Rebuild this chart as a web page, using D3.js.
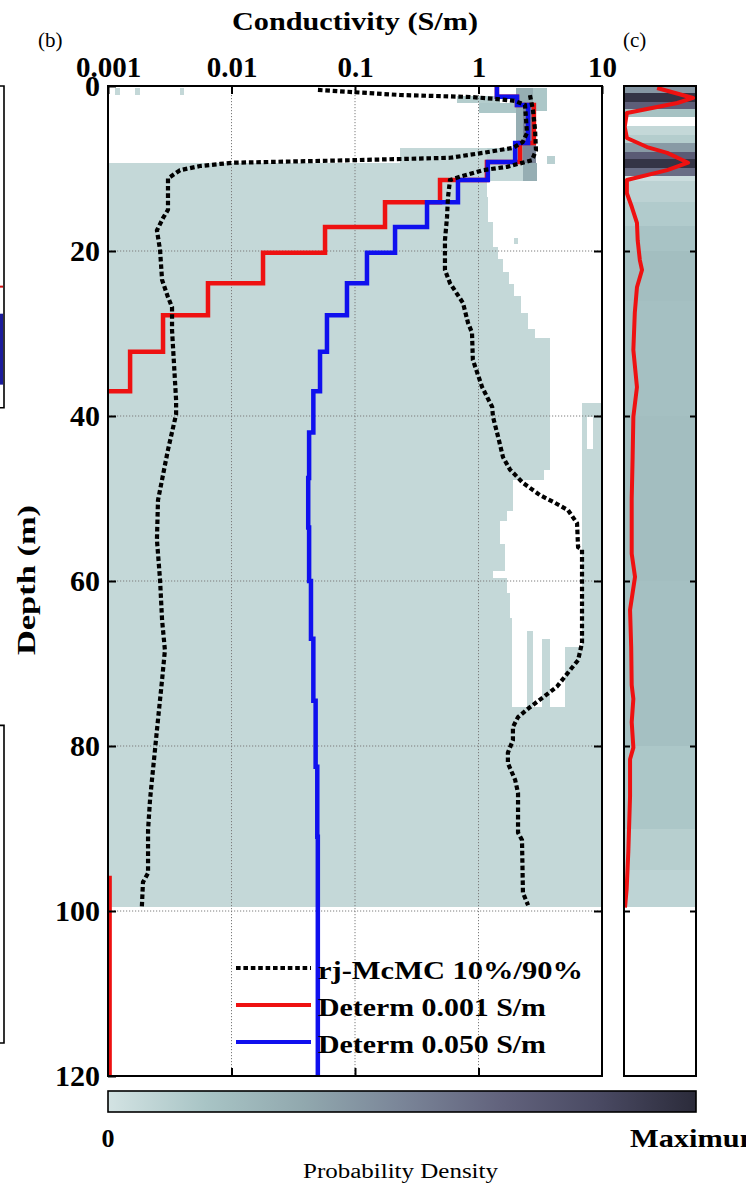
<!DOCTYPE html>
<html><head><meta charset="utf-8">
<script src="https://cdn.jsdelivr.net/npm/d3@7"></script>
<style>body{margin:0;background:#fff}svg{display:block}</style>
</head><body>
<svg id="chart" width="746" height="1184"></svg>
<script>
// ---------------- DATA ----------------
const xTickValues = [0.001, 0.01, 0.1, 1, 10];
const xTickLabels = ["0.001", "0.01", "0.1", "1", "10"];
const depthTickValues = [0, 20, 40, 60, 80, 100, 120];
const depthTickLabels = ["0", "20", "40", "60", "80", "100", "120"];

// rj-McMC 10% percentile
const p10Depth = [0.48,1.09,1.33,1.58,1.82,2.3,5.7,6.8,7.5,8.1,8.7,9.0,9.3,9.45,9.7,10.2,11.2,15.0,16.0,17.5,19.9,23.5,25.6,26.8,29.6,38.1,39.8,44.1,50.2,55.0,59.9,64.7,68.4,72.0,76.8,80.5,84.1,86.5,90.2,95.4,96.5,99.5];
const p10Value = [0.0501,0.231,0.853,1.41,1.98,2.38,2.47,2.28,1.90,1.09,0.588,0.0911,0.0103,0.00807,0.00556,0.00383,0.00306,0.00306,0.00279,0.00249,0.00264,0.00274,0.00306,0.0033,0.0033,0.00356,0.00356,0.00306,0.00254,0.00249,0.00264,0.00274,0.00289,0.00274,0.00254,0.0024,0.00227,0.00219,0.00211,0.00211,0.00192,0.00188];
// rj-McMC 90% percentile
const p90Depth = [1.1,2.9,5.3,7.8,9.0,9.8,10.2,11.0,11.4,13.5,15.9,18.7,22.3,23.9,26.3,28.7,29.9,33.2,36.5,38.9,40.1,42.5,45.0,46.5,48.1,49.6,50.4,51.4,53.0,55.9,56.2,67.5,69.6,70.8,72.8,74.1,75.3,76.5,77.7,79.3,80.8,82.1,84.1,85.7,90.5,91.4,97.8,99.3];
const p90Value = [2.61,2.76,2.87,2.92,2.71,1.70,1.09,0.708,0.588,0.566,0.556,0.535,0.535,0.588,0.749,0.822,0.886,0.9,1.07,1.29,1.31,1.44,1.58,1.80,2.29,3.15,4.01,5.30,6.28,6.40,6.89,6.89,6.40,5.51,4.32,3.33,2.61,2.09,1.90,1.90,1.73,1.73,1.98,2.09,2.09,2.25,2.29,2.52];

// deterministic layered models (layer tops, m; last layer to 120 m)
const layerTops = [0,1.3,2.3,6.9,9.2,11.4,14.1,17.1,20.2,23.9,27.8,32.2,37.0,42,47.5,53.5,60,67,74.5,82.5,91,96,100];
const modelBottom = 120;
const determ001 = [1.41,2.05,2.81,2.17,1.17,0.488,0.175,0.0572,0.018,0.00645,0.00279,0.00151,0.0008,0.0008,0.0008,0.0008,0.0008,0.0008,0.0008,0.0008,0.0008,0.00103,0.00103];
const determ050 = [1.41,2.05,2.52,1.98,1.19,0.682,0.383,0.211,0.125,0.0861,0.0593,0.0521,0.046,0.0425,0.0418,0.0425,0.044,0.046,0.048,0.0495,0.05,0.05,0.05];

// posterior probability density cells: depth top, depth bottom, min S/m, max S/m, relative density
const pdfTop    = [7.5,7.5,9.3,11.5,13.5,16.5,19.5,21,22.5,24,25.5,27.5,29.5,30.5,46.5,47.7,51.5,52.7,55.5,58.8,59.6,61.5,64.5,75.3,18.4,38.4,40.1,40.1,44,66,67,68, 0.3,0.3,0.3,1.2,2.1,0.3,0.3,2.0,8.5,9.3];
const pdfBottom = [9.3,9.3,11.5,13.5,16.5,19.5,21,22.5,24,25.5,27.5,29.5,30.5,46.5,47.7,51.5,52.7,55.5,58.8,59.6,61.5,64.5,75.3,99.5,19.2,40.1,44,44,75.3,75.3,75.3,75.3, 1.1,1.1,1.1,2.1,3.3,3.0,9.3,9.3,9.5,11.5];
const pdfMin    = [0.23,1.17,0.001,0.001,0.001,0.001,0.001,0.001,0.001,0.001,0.001,0.001,0.001,0.001,0.001,0.001,0.001,0.001,0.001,0.001,0.001,0.001,0.001,0.001,1.95,6.9,6.9,8.45,6.9,2.47,3.25,5.0, 0.00114,0.00165,0.00383,0.67,1.0,2.76,2.0,2.3,3.6,2.3];
const pdfMax    = [1.17,2.0,2.5,1.17,1.2,1.31,1.45,1.58,1.75,1.95,2.2,2.5,2.87,3.79,3.4,1.90,1.70,1.5,1.65,1.31,1.70,1.80,1.87,10,2.1,10,7.56,10,10,2.76,3.79,6.9, 0.00125,0.00182,0.00413,1.49,2.0,3.59,2.76,2.9,4.2,3.0];
const pdfLevel  = [0.06,0.1,0.06,0.06,0.06,0.06,0.06,0.06,0.06,0.06,0.06,0.06,0.06,0.06,0.06,0.06,0.06,0.06,0.06,0.06,0.06,0.06,0.06,0.06,0.06,0.06,0.06,0.06,0.06,0.06,0.06,0.06, 0.06,0.06,0.06,0.12,0.15,0.15,0.3,0.5,0.1,0.3];

// panel (c): interface-depth probability bands
const cBandTop    = [0,0.9,1.9,2.8,4.85,5.9,6.9,8.0,8.9,9.9,10.9,11.5,14,17,20,26,40,60,80,90,95];
const cBandBottom = [0.9,1.9,2.8,3.75,5.9,6.9,8.0,8.9,9.9,10.9,11.5,14,17,20,26,40,60,80,90,95,99.5];
const cBandLevel  = [0.42,0.95,0.7,0.18,0.06,0.12,0.4,0.72,0.95,0.62,0.03,0.09,0.13,0.17,0.2,0.19,0.2,0.19,0.15,0.11,0.08];
// panel (c): red curve (depth, fraction of panel width)
const cLineDepth = [0.24,1.45,2.06,3.27,4.97,6.3,7.4,8.1,9.3,10.2,11.4,13.0,14.7,16.6,18.7,21.1,22.3,24.4,27.5,32,36.5,40.1,45,50,56.7,59.5,63.5,68,72.6,74.3,77.1,80.2,81.6,86.1,92.8,97.3,99.6];
const cLineFrac  = [0.46,0.96,0.74,0.04,0.01,0.04,0.32,0.60,0.89,0.60,0.04,0.04,0.11,0.18,0.19,0.22,0.25,0.18,0.15,0.13,0.18,0.13,0.12,0.107,0.107,0.153,0.084,0.1,0.107,0.13,0.107,0.13,0.084,0.084,0.06,0.037,0.014];

const colorStops = ["#d3e3e3","#a8c4c5","#91a8ae","#7a8598","#62637d","#4a4a63","#2b2b3a"];
const legendLabels = ["rj-McMC 10%/90%", "Determ 0.001 S/m", "Determ 0.050 S/m"];

// ---------------- LAYOUT ----------------
const svg = d3.select("#chart");
const FONT = "'Liberation Serif','Times New Roman',Times,serif";
const L = 108, R = 602, T = 86, B = 1076;
const CL = 624, CR = 696;

const x = d3.scaleLog().domain([0.001, 10]).range([L, R]);
const y = d3.scaleLinear().domain([0, 120]).range([T, B]);
const xc = d3.scaleLinear().domain([0, 1]).range([CL, CR]);
const color = d3.scaleLinear()
  .domain(colorStops.map((c, i) => i / (colorStops.length - 1)))
  .range(colorStops).interpolate(d3.interpolateRgb);

const defs = svg.append("defs");
defs.append("clipPath").attr("id", "clipB").append("rect")
  .attr("x", L).attr("y", T).attr("width", R - L).attr("height", B - T);
defs.append("clipPath").attr("id", "clipC").append("rect")
  .attr("x", CL).attr("y", T).attr("width", CR - CL).attr("height", B - T);

// ----- panel (a) fragments at far left -----
const frag = svg.append("g").attr("stroke", "#000").attr("stroke-width", 1.6).attr("fill", "none");
frag.append("path").attr("d", `M0,${y(0)}H4V${y(39)}H0`);
frag.append("path").attr("d", `M0,${y(77.5)}H4V${y(116)}H0`);
svg.append("rect").attr("x", 0).attr("y", y(27.6)).attr("width", 3).attr("height", y(36.2) - y(27.6)).attr("fill", "#1c1c9a");
svg.append("rect").attr("x", 0).attr("y", y(24.2)).attr("width", 3).attr("height", 2).attr("fill", "#d01010");

// ----- panel (b) -----
const gB = svg.append("g");
const heat = gB.append("g").attr("clip-path", "url(#clipB)").attr("shape-rendering", "crispEdges");
heat.selectAll("rect").data(pdfTop.map((t, i) => i)).join("rect")
  .attr("x", i => x(pdfMin[i]))
  .attr("width", i => x(pdfMax[i]) - x(pdfMin[i]))
  .attr("y", i => y(pdfTop[i]))
  .attr("height", i => y(pdfBottom[i]) - y(pdfTop[i]))
  .attr("fill", i => color(pdfLevel[i]));

// grid
const grid = gB.append("g").attr("stroke", "#7d7d7d").attr("stroke-width", 1).attr("stroke-dasharray", "1.2,1.8");
grid.selectAll("line.v").data(xTickValues.slice(1, -1)).join("line")
  .attr("x1", d => x(d)).attr("x2", d => x(d)).attr("y1", T).attr("y2", B);
grid.selectAll("line.h").data(depthTickValues.slice(1, -1)).join("line")
  .attr("x1", L).attr("x2", R).attr("y1", d => y(d)).attr("y2", d => y(d));

// lines
const lines = gB.append("g").attr("clip-path", "url(#clipB)").attr("fill", "none");
function stepPoints(vals) {
  const pts = [];
  vals.forEach((v, i) => {
    const top = layerTops[i];
    const bot = i + 1 < layerTops.length ? layerTops[i + 1] : modelBottom;
    pts.push([v, top], [v, bot]);
  });
  return pts;
}
const lineVD = d3.line().x(d => x(d[0])).y(d => y(d[1]));
lines.append("path").attr("d", lineVD(stepPoints(determ001)))
  .attr("stroke", "#ee1111").attr("stroke-width", 4.5);
lines.append("path").attr("d", lineVD(stepPoints(determ050)))
  .attr("stroke", "#1010ee").attr("stroke-width", 4.5);
[[p10Value, p10Depth], [p90Value, p90Depth]].forEach(([v, dd]) => {
  lines.append("path").attr("d", lineVD(v.map((val, i) => [val, dd[i]])))
    .attr("stroke", "#000").attr("stroke-width", 4.2).attr("stroke-dasharray", "4.6,2.8");
});

// axes
const axStyle = g => {
  g.select(".domain").remove();
  g.selectAll(".tick line").attr("stroke", "#000").attr("stroke-width", 2);
  g.selectAll("text").attr("font-family", FONT).attr("font-weight", "bold").attr("fill", "#000");
};
svg.append("g").attr("transform", `translate(0,${T})`)
  .call(d3.axisTop(x).tickValues(xTickValues).tickFormat((d, i) => xTickLabels[i]).tickSize(-8).tickPadding(9))
  .call(axStyle).call(g => g.selectAll("text").attr("font-size", 29));
svg.append("g").attr("transform", `translate(0,${B})`)
  .call(d3.axisBottom(x).tickValues(xTickValues.slice(1, -1)).tickFormat("").tickSize(-8))
  .call(axStyle);
svg.append("g").attr("transform", `translate(${L},0)`)
  .call(d3.axisLeft(y).tickValues(depthTickValues).tickFormat((d, i) => depthTickLabels[i]).tickSize(-8).tickPadding(8))
  .call(axStyle).call(g => g.selectAll("text").attr("font-size", 30));
svg.append("g").attr("transform", `translate(${R},0)`)
  .call(d3.axisRight(y).tickValues(depthTickValues.slice(1, -1)).tickFormat("").tickSize(-8))
  .call(axStyle);
gB.append("rect").attr("x", L).attr("y", T).attr("width", R - L).attr("height", B - T)
  .attr("fill", "none").attr("stroke", "#000").attr("stroke-width", 2);

// legend
const legY = [968, 1005, 1042];
const legG = svg.append("g");
legY.forEach((ly, i) => {
  const ln = legG.append("line").attr("x1", 236).attr("x2", 311).attr("y1", ly).attr("y2", ly)
    .attr("stroke-width", 4.2)
    .attr("stroke", ["#000", "#ee1111", "#1010ee"][i]);
  if (i === 0) ln.attr("stroke-dasharray", "4.6,2.8");
  legG.append("text").attr("x", 318).attr("y", ly + 11)
    .attr("font-family", FONT).attr("font-weight", "bold").attr("font-size", 26)
    .attr("textLength", i === 0 ? 265 : 228).attr("lengthAdjust", "spacingAndGlyphs")
    .text(legendLabels[i]);
});

// ----- panel (c) -----
const gC = svg.append("g");
gC.append("g").attr("clip-path", "url(#clipC)").attr("shape-rendering", "crispEdges")
  .selectAll("rect").data(cBandTop.map((t, i) => i)).join("rect")
  .attr("x", CL).attr("width", CR - CL)
  .attr("y", i => y(cBandTop[i])).attr("height", i => y(cBandBottom[i]) - y(cBandTop[i]))
  .attr("fill", i => color(cBandLevel[i]));
gC.append("path").attr("clip-path", "url(#clipC)")
  .attr("d", d3.line().x(d => xc(d[0])).y(d => y(d[1]))(cLineFrac.map((f, i) => [f, cLineDepth[i]])))
  .attr("fill", "none").attr("stroke", "#ee1111").attr("stroke-width", 4).attr("stroke-linejoin", "round");
svg.append("g").attr("transform", `translate(${CL},0)`)
  .call(d3.axisLeft(y).tickValues(depthTickValues.slice(1, -1)).tickFormat("").tickSize(-6)).call(axStyle);
svg.append("g").attr("transform", `translate(${CR},0)`)
  .call(d3.axisRight(y).tickValues(depthTickValues.slice(1, -1)).tickFormat("").tickSize(-6)).call(axStyle);
gC.append("rect").attr("x", CL).attr("y", T).attr("width", CR - CL).attr("height", B - T)
  .attr("fill", "none").attr("stroke", "#000").attr("stroke-width", 2);

// ----- titles -----
svg.append("text").attr("x", 232).attr("y", 30).attr("font-family", FONT).attr("font-weight", "bold")
  .attr("font-size", 26).attr("textLength", 246).attr("lengthAdjust", "spacingAndGlyphs").text("Conductivity (S/m)");
svg.append("text").attr("x", 38).attr("y", 47).attr("font-family", FONT).attr("font-size", 21).text("(b)");
svg.append("text").attr("x", 623).attr("y", 47).attr("font-family", FONT).attr("font-size", 21).text("(c)");
svg.append("text").attr("transform", `translate(35,580) rotate(-90)`)
  .attr("text-anchor", "middle").attr("font-family", FONT).attr("font-weight", "bold")
  .attr("font-size", 25).attr("textLength", 150).attr("lengthAdjust", "spacingAndGlyphs").text("Depth (m)");

// ----- colorbar -----
const grad = defs.append("linearGradient").attr("id", "cbar").attr("x1", "0%").attr("x2", "100%");
colorStops.forEach((c, i) => grad.append("stop").attr("offset", `${100 * i / (colorStops.length - 1)}%`).attr("stop-color", c));
const cbX = d3.scaleLinear().domain([0, 1]).range([L, CR]);
svg.append("rect").attr("x", cbX(0)).attr("y", 1091).attr("width", cbX(1) - cbX(0)).attr("height", 21)
  .attr("fill", "url(#cbar)").attr("stroke", "#000").attr("stroke-width", 1.6);
svg.append("text").attr("x", cbX(0)).attr("y", 1147).attr("text-anchor", "middle")
  .attr("font-family", FONT).attr("font-weight", "bold").attr("font-size", 26).text("0");
svg.append("text").attr("x", 630).attr("y", 1147)
  .attr("font-family", FONT).attr("font-weight", "bold").attr("font-size", 26)
  .attr("textLength", 135).attr("lengthAdjust", "spacingAndGlyphs").text("Maximum");
svg.append("text").attr("x", 303).attr("y", 1178)
  .attr("font-family", FONT).attr("font-size", 20)
  .attr("textLength", 195).attr("lengthAdjust", "spacingAndGlyphs").text("Probability Density");
</script>
</body></html>
